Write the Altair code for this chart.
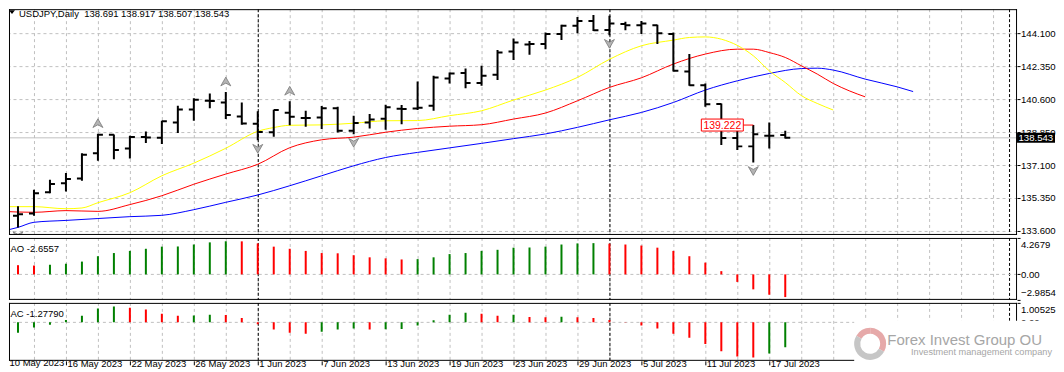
import altair as alt
import numpy as np
import pandas as pd

# ------------------------------------------------------------------ data
symbol = "USDJPY"
timeframe = "Daily"

bar_idx = list(range(50))
opens = [134.84, 134.41, 134.53, 135.65, 136.13, 136.39, 137.72, 138.71, 137.98, 138.59,
         138.55, 139.36, 140.05, 140.51, 140.42, 139.68, 139.29, 138.84, 139.87, 139.59,
         139.62, 140.12, 138.92, 139.36, 139.56, 140.09, 140.10, 140.25, 141.69, 141.98,
         141.45, 141.89, 143.12, 143.50, 143.52, 144.05, 144.49, 144.75, 144.27, 144.58,
         144.52, 144.52, 144.05, 142.06, 141.33, 140.34, 138.53, 138.09, 138.65, 138.691]
highs = [135.47, 134.91, 135.79, 136.32, 136.68, 137.72, 138.76, 138.72, 138.65, 138.88,
         139.45, 140.25, 140.65, 140.90, 140.97, 140.42, 139.95, 140.04, 140.48, 139.98,
         140.23, 140.19, 139.72, 139.81, 140.30, 140.28, 141.53, 141.84, 142.01, 142.22,
         142.37, 143.20, 143.81, 143.69, 144.13, 144.54, 144.96, 145.07, 145.02, 144.70,
         144.75, 144.54, 144.13, 142.99, 141.43, 140.37, 139.01, 139.222, 139.36, 138.917]
lows = [134.15, 133.79, 134.41, 135.60, 135.69, 136.27, 137.33, 137.40, 137.45, 138.27,
        138.21, 138.80, 139.45, 140.12, 139.54, 139.24, 138.42, 138.60, 139.21, 139.13,
        139.01, 138.83, 138.74, 139.04, 138.97, 139.27, 140.02, 139.98, 141.43, 141.18,
        141.31, 141.61, 142.67, 142.95, 143.25, 143.73, 144.10, 144.22, 143.99, 144.26,
        144.05, 143.52, 142.06, 141.31, 140.19, 138.16, 137.90, 137.24, 137.98, 138.507]
closes = [134.31, 134.49, 135.60, 136.09, 136.36, 137.65, 138.71, 137.90, 138.59, 138.56,
          139.43, 140.05, 140.56, 140.50, 139.75, 139.31, 138.85, 140.02, 139.66, 139.60,
          140.12, 138.92, 139.33, 139.52, 140.17, 140.07, 140.14, 141.75, 141.96, 141.45,
          141.84, 143.07, 143.60, 143.52, 144.05, 144.49, 144.75, 144.26, 144.61, 144.52,
          144.61, 144.10, 142.10, 141.33, 140.33, 138.53, 138.09, 138.74, 138.66, 138.543]

# Alligator lines (jaw = blue, teeth = red, lips = yellow), read at bar indices
jaw_idx = [0, 1, 2, 4, 6, 8, 10, 12, 14, 16, 18, 20, 22, 24, 26, 28, 30, 32, 34, 36,
           38, 40, 42, 44, 46, 48, 50, 51, 52, 54, 56, 57]
jaw_val = [133.59, 133.79, 134.06, 134.16, 134.26, 134.36, 134.43, 134.73, 135.12, 135.51,
           136.00, 136.53, 137.06, 137.50, 137.77, 138.01, 138.25, 138.50, 138.75, 139.10,
           139.50, 139.89, 140.42, 141.08, 141.57, 141.96, 142.22, 142.24, 142.14, 141.66,
           141.25, 141.00]
teeth_idx = [0, 2, 4, 6, 8, 10, 12, 14, 16, 18, 20, 22, 24, 26, 28, 30, 32, 34, 36, 38,
             40, 42, 44, 46, 47, 48, 49, 50, 51, 52, 53, 54]
teeth_val = [134.64, 134.59, 134.68, 134.64, 135.00, 135.47, 136.08, 136.62, 137.14, 138.02,
             138.44, 138.58, 138.84, 139.04, 139.16, 139.24, 139.54, 139.86, 140.51, 141.22,
             141.73, 142.46, 142.99, 143.25, 143.25, 143.07, 142.81, 142.37, 141.93, 141.43,
             141.04, 140.72]
lips_idx = [0, 2, 4, 5, 6, 8, 10, 12, 14, 16, 17, 18, 20, 22, 24, 26, 28, 30, 32, 34,
            36, 38, 40, 42, 43, 44, 45, 46, 47, 48, 49, 50, 51, 52]
lips_val = [134.89, 134.89, 134.78, 134.82, 135.10, 135.63, 136.53, 137.20, 137.99, 138.89,
            139.09, 139.21, 139.23, 139.32, 139.45, 139.46, 139.72, 139.98, 140.55, 141.08,
            141.75, 142.71, 143.43, 143.73, 143.87, 143.90, 143.78, 143.45, 142.90, 142.10,
            141.48, 140.79, 140.37, 140.02]

fractal_up_idx = [6, 14, 18, 37]
fractal_down_idx = [1, 16, 22, 38, 47]

ao_prev = 1.20
ao_values = [1.13, 1.08, 1.04, 1.13, 1.25, 1.50, 2.13, 2.50, 2.75, 3.00,
             3.25, 3.27, 3.50, 3.75, 3.88, 3.87, 3.63, 3.25, 3.00, 2.75,
             2.50, 2.47, 2.25, 2.00, 1.88, 1.75, 1.79, 2.00, 2.38, 2.50,
             2.75, 2.88, 3.13, 3.15, 3.25, 3.50, 3.63, 3.66, 3.60, 3.50,
             3.38, 3.13, 2.75, 2.13, 1.38, 0.38, -0.88, -1.75, -2.38, -2.6557]
ac_prev = -0.60
ac_values = [-0.67, -0.53, -0.27, -0.12, 0.12, 0.34, 0.71, 0.82, 0.76, 0.66,
             0.44, 0.34, 0.35, 0.39, 0.38, 0.23, -0.10, -0.37, -0.53, -0.59,
             -0.48, -0.37, -0.32, -0.37, -0.36, -0.34, -0.16, 0.11, 0.39, 0.50,
             0.44, 0.34, 0.39, 0.28, 0.26, 0.29, 0.27, 0.23, 0.12, -0.01,
             -0.16, -0.32, -0.59, -0.80, -1.12, -1.49, -1.76, -1.81, -1.60, -1.2779]

date_idx = [0, 4, 8, 12, 16, 20, 24, 28, 32, 36, 40, 44, 48]
date_labels = ["10 May 2023", "16 May 2023", "22 May 2023", "26 May 2023", "1 Jun 2023",
               "7 Jun 2023", "13 Jun 2023", "19 Jun 2023", "23 Jun 2023", "29 Jun 2023",
               "5 Jul 2023", "11 Jul 2023", "17 Jul 2023"]
grid_idx = [0, 2, 4, 6, 8, 10, 12, 14, 16, 18, 20, 22, 24, 26, 28, 30, 32, 34, 36, 38,
            40, 42, 44, 46, 48, 50, 52, 54, 56, 58, 60, 62]
separator_idx = [16, 38]
shift_idx = [63]

price_ticks = [133.6, 135.35, 137.1, 138.85, 140.6, 142.35, 144.1]
price_range = [133.388, 145.373]
ao_ticks = [4.2679, 0.0, -2.9854]
ac_ticks = [1.00525, 0.0]
ac_range = [-1.985, 1.00525]

bid_price = closes[-1]
marked_idx = 47
marked_price = highs[marked_idx]
watermark_title = "Forex Invest Group OU"
watermark_sub = "Investment management company"

# ------------------------------------------------------------------ style
W = 1009
H_MAIN, H_AO, H_AC = 226, 62, 58
FONT = "Liberation Sans, Arial, sans-serif"
GRID = "#c0c0c0"
GREEN, RED = "#008000", "#ff0000"
AXFS = 9.6

xscale = alt.Scale(domain=[0.4375, 63.5], nice=False, zero=False)
pscale = alt.Scale(domain=price_range, nice=False, zero=False)
aoscale = alt.Scale(domain=[ao_ticks[-1], ao_ticks[0]], nice=False, zero=False)
acscale = alt.Scale(domain=ac_range, nice=False, zero=False)

one = pd.DataFrame({"k": [0]})


def X(axis=None):
    return alt.X("idx:Q", scale=xscale, axis=axis)


def grid_layer(axis=None):
    return alt.Chart(pd.DataFrame({"idx": grid_idx})).mark_rule(
        color=GRID, strokeWidth=1, strokeDash=[3, 3], xOffset=0.5, clip=True
    ).encode(x=X(axis))


def sep_layer(axis=None):
    return alt.Chart(pd.DataFrame({"idx": separator_idx + shift_idx})).mark_rule(
        color="black", strokeWidth=1, strokeDash=[3, 2], xOffset=0.5, clip=True
    ).encode(x=X(axis))


def frame_layer(h):
    b = alt.Chart(one)
    return alt.layer(
        b.mark_rule(color="black").encode(x=alt.value(0.5), y=alt.value(0), y2=alt.value(h)),
        b.mark_rule(color="black").encode(x=alt.value(W - 0.5), y=alt.value(0), y2=alt.value(h)),
        b.mark_rule(color="black").encode(x=alt.value(0), x2=alt.value(W), y=alt.value(0.5)),
        b.mark_rule(color="black").encode(x=alt.value(0), x2=alt.value(W), y=alt.value(h - 0.5)),
    )


def right_axis(values, **kw):
    return alt.Axis(orient="right", values=values, grid=False, tickSize=3,
                    tickColor="black", domain=False, labelFont=FONT, labelFontSize=AXFS,
                    labelColor="black", labelPadding=0.5, labelOverlap=False,
                    title=None, **kw)


# ------------------------------------------------------------------ main panel
pax = alt.Axis(orient="right", values=price_ticks, format=".3f", grid=True,
               gridColor=GRID, gridDash=[3, 3], gridWidth=1, tickSize=3,
               tickColor="black", domain=False, labelFont=FONT, labelFontSize=AXFS,
               labelColor="black", labelPadding=0.5, labelOverlap=False, title=None)


def P(field):
    return alt.Y(f"{field}:Q", scale=pscale, axis=pax)


bars = pd.DataFrame({"idx": bar_idx, "open": opens, "high": highs,
                     "low": lows, "close": closes})

hl = alt.Chart(bars).mark_rule(color="black", strokeWidth=2, clip=True).encode(
    x=X(), y=P("low"), y2="high:Q")
op = alt.Chart(bars).mark_rule(color="black", strokeWidth=2, xOffset=-5, clip=True).encode(
    x=X(), x2="idx:Q", y=P("open"))
cl = alt.Chart(bars).mark_rule(color="black", strokeWidth=2, x2Offset=5, clip=True).encode(
    x=X(), x2="idx:Q", y=P("close"))


def ma(idx, val, color):
    return alt.Chart(pd.DataFrame({"idx": idx, "v": val})).mark_line(
        color=color, strokeWidth=1, clip=True, interpolate="monotone"
    ).encode(x=X(), y=P("v"))


jaw = ma(jaw_idx, jaw_val, "#0000ff")
teeth = ma(teeth_idx, teeth_val, "#ff0000")
lips = ma(lips_idx, lips_val, "#ffff00")

UP_PATH = "M0,-1L1,0.75L0,0.2L-1,0.75Z"
DOWN_PATH = "M0,1L1,-0.75L0,-0.2L-1,-0.75Z"
fup = alt.Chart(pd.DataFrame({"idx": fractal_up_idx,
                              "price": [highs[i] for i in fractal_up_idx]})).mark_point(
    shape=UP_PATH, size=100, filled=True, color="#b4b4b4", stroke="#7a7a7a",
    strokeWidth=0.8, opacity=1, yOffset=-10, clip=True).encode(x=X(), y=P("price"))
fdn = alt.Chart(pd.DataFrame({"idx": fractal_down_idx,
                              "price": [lows[i] for i in fractal_down_idx]})).mark_point(
    shape=DOWN_PATH, size=100, filled=True, color="#b4b4b4", stroke="#7a7a7a",
    strokeWidth=0.8, opacity=1, yOffset=8, clip=True).encode(x=X(), y=P("price"))

mk = pd.DataFrame({"idx": [marked_idx], "price": [marked_price],
                   "label": [f"{marked_price:.3f}"]})
mk_box = alt.Chart(mk).mark_rect(fill="white", stroke="red", strokeWidth=1,
                                 xOffset=-52, x2Offset=-10, yOffset=-6, y2Offset=6).encode(
    x=X(), x2="idx:Q", y=P("price"), y2="price:Q")
mk_line = alt.Chart(mk).mark_rule(color="red", strokeWidth=1, xOffset=-10).encode(
    x=X(), x2="idx:Q", y=P("price"))
mk_text = alt.Chart(mk).mark_text(color="red", font=FONT, fontSize=10.5, align="center",
                                  baseline="middle", dx=-31, dy=0.5).encode(
    x=X(), y=P("price"), text="label:N")

bid = pd.DataFrame({"price": [bid_price], "label": [f"{bid_price:.3f}"]})
bid_line = alt.Chart(bid).mark_rule(color=GRID, strokeWidth=1).encode(y=P("price"))
bid_box = alt.Chart(bid).mark_rect(color="black", yOffset=-5, y2Offset=5).encode(
    x=alt.value(W), x2=alt.value(W + 38), y=P("price"), y2="price:Q")
bid_text = alt.Chart(bid).mark_text(color="white", font=FONT, fontSize=AXFS, align="left",
                                    baseline="middle", dy=0.5).encode(
    x=alt.value(W + 1.5), y=P("price"), text="label:N")

legend_text = (f"{symbol},{timeframe}\u00a0\u00a0{opens[-1]:.3f} {highs[-1]:.3f} "
               f"{lows[-1]:.3f} {closes[-1]:.3f}")
tri = alt.Chart(one).mark_point(shape="M-1,-0.6L1,-0.6L0,0.6Z", size=36, filled=True,
                                color="black", opacity=1).encode(
    x=alt.value(3), y=alt.value(3))
leg = alt.Chart(one).mark_text(align="left", baseline="alphabetic", font=FONT,
                               fontSize=9.5, color="black").encode(
    x=alt.value(10), y=alt.value(7.8), text=alt.value(legend_text))

main = alt.layer(
    grid_layer(), sep_layer(), bid_line, jaw, teeth, lips, hl, op, cl, fup, fdn,
    mk_box, mk_line, mk_text, bid_box, bid_text, tri, leg, frame_layer(H_MAIN)
).properties(width=W, height=H_MAIN)

# ------------------------------------------------------------------ AO panel
ao_df = pd.DataFrame({"idx": bar_idx, "value": ao_values})
ao_df["base"] = 0.0
ao_df["dir"] = np.where(np.array(ao_values) > np.array([ao_prev] + ao_values[:-1]),
                        "up", "down")
aoax = right_axis(ao_ticks,
                  labelExpr="datum.value == 0 ? '0.00' : format(datum.value, '.4f')",
                  labelFlush=True, labelFlushOffset=-2)
dir_color = alt.Color("dir:N", scale=alt.Scale(domain=["up", "down"], range=[GREEN, RED]),
                      legend=None)

ao_zero = alt.Chart(pd.DataFrame({"v": [0.0]})).mark_rule(
    color=GRID, strokeDash=[3, 3], strokeWidth=1).encode(
    y=alt.Y("v:Q", scale=aoscale, axis=aoax))
ao_bars = alt.Chart(ao_df).mark_rule(strokeWidth=2, clip=True).encode(
    x=X(), y=alt.Y("base:Q", scale=aoscale, axis=aoax), y2="value:Q", color=dir_color)
ao_label = alt.Chart(one).mark_text(align="left", baseline="alphabetic", font=FONT,
                                    fontSize=9.5, color="black").encode(
    x=alt.value(1.5), y=alt.value(14), text=alt.value(f"AO {ao_values[-1]:.4f}"))

ao = alt.layer(grid_layer(), sep_layer(), ao_zero, ao_bars, ao_label,
               frame_layer(H_AO)).properties(width=W, height=H_AO)

# ------------------------------------------------------------------ AC panel
ac_df = pd.DataFrame({"idx": bar_idx, "value": ac_values})
ac_df["base"] = 0.0
ac_df["dir"] = np.where(np.array(ac_values) > np.array([ac_prev] + ac_values[:-1]),
                        "up", "down")
acax = right_axis(ac_ticks,
                  labelExpr="datum.value == 0 ? '0.00' : format(datum.value, '.5f')",
                  labelFlush=True, labelFlushOffset=-2)
label_js = "[" + ",".join(f"'{s}'" for s in date_labels) + "]"
idx_js = "[" + ",".join(str(i) for i in date_idx) + "]"
dax = alt.Axis(orient="bottom", values=date_idx[1:],
               labelExpr=f"{label_js}[indexof({idx_js}, datum.value)]",
               grid=False, domain=False, ticks=True, tickSize=4, tickColor="black",
               labelAlign="left", labelBaseline="alphabetic", labelPadding=1.6,
               labelOffset=1, labelFlush=False, labelOverlap=False, labelFont=FONT,
               labelFontSize=9.5, labelColor="black", title=None)

ac_zero = alt.Chart(pd.DataFrame({"v": [0.0]})).mark_rule(
    color=GRID, strokeDash=[3, 3], strokeWidth=1).encode(
    y=alt.Y("v:Q", scale=acscale, axis=acax))
ac_bars = alt.Chart(ac_df).mark_rule(strokeWidth=2, clip=True).encode(
    x=X(dax), y=alt.Y("base:Q", scale=acscale, axis=acax), y2="value:Q", color=dir_color)
ac_label = alt.Chart(one).mark_text(align="left", baseline="alphabetic", font=FONT,
                                    fontSize=9.5, color="black").encode(
    x=alt.value(1.5), y=alt.value(14), text=alt.value(f"AC {ac_values[-1]:.5f}"))
first_date = alt.Chart(one).mark_text(align="left", baseline="alphabetic", font=FONT,
                                      fontSize=9.5, color="black").encode(
    x=alt.value(0.5), y=alt.value(H_AC + 5.6), text=alt.value(date_labels[0]))

wm_bg = alt.Chart(one).mark_rect(color="white").encode(
    x=alt.value(846), x2=alt.value(1047), y=alt.value(18), y2=alt.value(65))
ring_parts = [(5.24, 6.2832, "#e6a9a9"), (0.0, 2.09, "#e6a9a9"), (2.09, 5.24, "#c6c6c6")]
rings = [alt.Chart(one).mark_arc(theta=t0, theta2=t1, radius=16, radius2=10, color=c).encode(
    x=alt.value(862), y=alt.value(41)) for t0, t1, c in ring_parts]
# right-aligned so that the text bounds never reach past the page edge
wm_title = alt.Chart(one).mark_text(font=FONT, fontSize=15, color="#a6a6a6",
                                    align="right", baseline="middle").encode(
    x=alt.value(1034), y=alt.value(37), text=alt.value(watermark_title))
wm_sub = alt.Chart(one).mark_text(font=FONT, fontSize=9.2, color="#a6a6a6",
                                  align="right", baseline="middle").encode(
    x=alt.value(1044), y=alt.value(49.5), text=alt.value(watermark_sub))

ac = alt.layer(grid_layer(dax), sep_layer(dax), ac_zero, ac_bars, ac_label, first_date,
               frame_layer(H_AC), wm_bg, *rings, wm_title, wm_sub
               ).properties(width=W, height=H_AC)

chart = alt.vconcat(main, ao, ac, spacing=1).properties(
    padding=0, background="white"
).configure_view(strokeWidth=0)

chart.save("out.html", embed_options={"renderer": "svg", "actions": False})
